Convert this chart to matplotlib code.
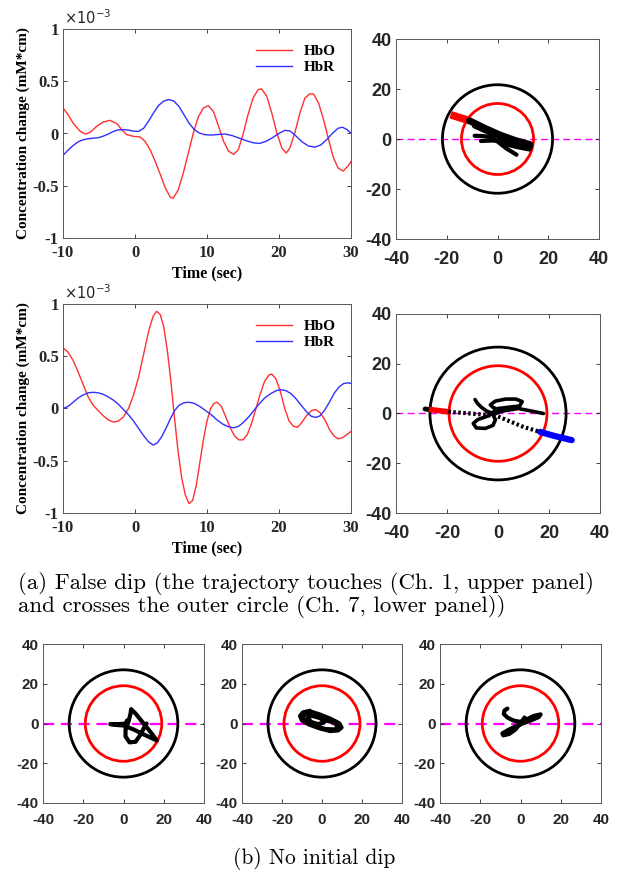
import matplotlib.pyplot as plt
from matplotlib.patches import Circle

plt.rcParams['axes.unicode_minus'] = False

# ---- time courses, values in units of 1e-3 mM*cm ----
ch1_hbo_t = [-10, -9.3, -8.6, -7.6, -6.9, -6.25, -5.3, -4.4, -3.5, -2.5, -1.85, -1.16, -0.23, 0.7,
             1.4, 2.1, 2.8, 3.5, 4.2, 4.9, 5.3, 6.0, 6.7, 7.4, 8.1, 8.8, 9.5, 10.2, 10.9, 11.6,
             12.3, 13.0, 13.7, 14.35, 15.0, 15.7, 16.4, 17.1, 17.6, 18.3, 19.0, 19.7, 20.4, 21.0,
             21.5, 22.2, 22.9, 23.6, 24.3, 24.8, 25.5, 26.2, 26.9, 27.5, 28.2, 28.9, 29.6, 30]
ch1_hbo = [0.244, 0.18, 0.10, 0.02, -0.005, 0.01, 0.07, 0.11, 0.126, 0.094, 0.037, -0.01, -0.027,
           -0.033, -0.075, -0.155, -0.266, -0.39, -0.52, -0.61, -0.62, -0.54, -0.38, -0.19, 0.005,
           0.16, 0.244, 0.266, 0.21, 0.07, -0.075, -0.17, -0.20, -0.155, -0.01, 0.18, 0.34, 0.42,
           0.426, 0.356, 0.196, 0.005, -0.14, -0.187, -0.14, 0.005, 0.196, 0.34, 0.38, 0.378,
           0.29, 0.13, -0.06, -0.22, -0.33, -0.36, -0.31, -0.27]
ch1_hbr_t = [-10, -9.3, -8.6, -7.9, -7.2, -6.5, -5.8, -5.1, -4.4, -3.7, -3.0, -2.3, -1.6, -0.9,
             -0.2, 0.5, 1.2, 1.9, 2.6, 3.3, 4.0, 4.7, 5.4, 6.1, 6.8, 7.5, 8.2, 8.9, 9.6, 10.5,
             11.5, 12.5, 13.5, 14.5, 15.5, 16.5, 17.3, 18.2, 19.1, 20.0, 20.8, 21.5, 22.3, 23.2,
             24.1, 25.0, 25.8, 26.6, 27.4, 28.2, 28.8, 29.4, 30]
ch1_hbr = [-0.21, -0.16, -0.115, -0.08, -0.06, -0.05, -0.045, -0.04, -0.025, -0.005, 0.02, 0.035,
           0.037, 0.032, 0.022, 0.02, 0.05, 0.12, 0.2, 0.27, 0.31, 0.325, 0.31, 0.26, 0.18, 0.1,
           0.04, 0.005, -0.01, -0.015, -0.01, -0.005, -0.02, -0.045, -0.07, -0.09, -0.095, -0.075,
           -0.04, 0.0, 0.03, 0.025, -0.02, -0.08, -0.12, -0.13, -0.11, -0.06, 0.0, 0.05, 0.06,
           0.04, 0.005]

ch7_hbo_t = [-10, -9.3, -8.6, -7.9, -7.2, -6.5, -5.8, -5.1, -4.4, -3.7, -3.0, -2.3, -1.6, -0.9,
             -0.2, 0.5, 1.2, 1.9, 2.5, 3.0, 3.5, 4.0, 4.5, 5.0, 5.5, 6.0, 6.5, 7.0, 7.5, 8.0, 8.5,
             9.0, 9.5, 10.0, 10.5, 11.0, 11.4, 12.0, 12.6, 13.2, 13.8, 14.4, 15.0, 15.6, 16.2,
             16.8, 17.4, 18.0, 18.6, 19.0, 19.6, 20.2, 20.8, 21.4, 22.0, 22.6, 23.2, 23.8, 24.5,
             25.1, 25.7, 26.4, 27.0, 27.6, 28.2, 28.8, 29.4, 30]
ch7_hbo = [0.58, 0.54, 0.46, 0.35, 0.23, 0.11, 0.03, -0.02, -0.07, -0.11, -0.13, -0.12, -0.08,
           0.0, 0.13, 0.3, 0.52, 0.74, 0.88, 0.93, 0.9, 0.78, 0.55, 0.25, -0.1, -0.42, -0.67,
           -0.83, -0.91, -0.88, -0.74, -0.52, -0.3, -0.12, 0.0, 0.05, 0.06, 0.02, -0.08, -0.18,
           -0.26, -0.3, -0.3, -0.25, -0.14, 0.0, 0.14, 0.26, 0.32, 0.33, 0.28, 0.16, 0.0, -0.12,
           -0.17, -0.18, -0.13, -0.07, -0.02, -0.01, -0.04, -0.11, -0.2, -0.26, -0.29, -0.28,
           -0.25, -0.22]
ch7_hbr_t = [-10, -9.3, -8.6, -7.9, -7.2, -6.5, -5.8, -5.1, -4.4, -3.7, -3.0, -2.3, -1.6, -0.9,
             -0.2, 0.5, 1.2, 1.9, 2.5, 3.1, 3.7, 4.3, 4.9, 5.5, 6.1, 6.8, 7.5, 8.2, 9.0, 9.8,
             10.6, 11.4, 12.2, 13.0, 13.7, 14.4, 15.1, 15.8, 16.5, 17.2, 18.0, 18.8, 19.6, 20.3,
             21.0, 21.7, 22.4, 23.1, 23.8, 24.5, 25.1, 25.7, 26.3, 27.0, 27.7, 28.4, 29.0, 29.6,
             30]
ch7_hbr = [0.0, 0.02, 0.06, 0.1, 0.13, 0.15, 0.155, 0.15, 0.135, 0.11, 0.08, 0.04, -0.01, -0.06,
           -0.12, -0.19, -0.26, -0.32, -0.35, -0.33, -0.27, -0.19, -0.1, -0.02, 0.03, 0.055, 0.06,
           0.05, 0.02, -0.02, -0.06, -0.11, -0.15, -0.175, -0.185, -0.17, -0.13, -0.08, -0.02,
           0.04, 0.1, 0.14, 0.17, 0.18, 0.17, 0.14, 0.09, 0.03, -0.03, -0.075, -0.085, -0.07,
           -0.02, 0.06, 0.15, 0.21, 0.24, 0.245, 0.24]

# ---- phase trajectories ----
# Ch. 1
c1_red_x = [-18.5, -11]
c1_red_y = [9.7, 7.3]
c1_main_x = [-11, -5, 1, 7, 12.7]
c1_main_y = [7.3, 4.3, 1.6, -0.6, -2.2]
c1_band_x = [-9, -3, 3, 8, 12.8, 12.5, 8, 3]
c1_band_y = [5.3, 2.5, 0.0, -2.0, -3.4, -3.9, -3.0, -1.8]
c1_b_x = [-9, -6, -3, 0, 3.5, 7.5]
c1_b_y = [1.3, 1.2, 0.8, -1.0, -3.8, -6.3]
c1_c_x = [-6.5, -2, 2, 6, 9]
c1_c_y = [-0.8, -0.6, -0.9, -1.4, -1.6]
c1_r = [21.7, 14.2]

# Ch. 7
c7_start_x = [-28.6, -26]
c7_start_y = [1.8, 1.5]
c7_red_x = [-26, -19.5]
c7_red_y = [1.5, 0.7]
c7_dot_x = [-19.5, -12, -5, 0, 5, 10, 16.5]
c7_dot_y = [0.7, 0.1, -0.5, -1.2, -3.3, -5.4, -7.4]
c7_blue_x = [16.5, 22, 28.9]
c7_blue_y = [-7.4, -9.0, -10.7]
c7_loop_x = [-9, -8, -6.5, -4.5, -2, 0, -2, -3, -1, 3, 7, 9.5, 8.5, 4, 0, -2, -4, -8, -9.7,
             -8.5, -5, -2, -1, -2, 1, 3, 8, 13, 17.8]
c7_loop_y = [5.6, 4, 2.5, 1, 0, 1.5, 2.5, 3.5, 5, 5.8, 5.8, 4.8, 3, 2.5, 2, 0.5, -1, -2.5, -4,
             -5.8, -6, -4.8, -2.5, -0.5, 0.8, 1.2, 2, 1, 0]
c7_r = [26.7, 19.2]

# no-dip examples
nd1_x = [1.7, 1.2, -2, -6.6, -3, 0, 5, 10, 16.5, 14, 10, 6, 3.8, 3.5, 2.5, 1, 1, 3, 6, 8.5,
         10.5, 11.5]
nd1_y = [1.5, 0, -0.3, -0.3, -0.8, -1, -3, -5.5, -8.5, -5, 0, 5, 7.2, 5, 1, -3, -6.5, -9.5, -9.2,
         -5.5, -1.5, 0]
nd2_x = [-6, -9.5, -11, -10, -6.5, -1, 4, 8, 9.8, 8.5, 4, -1, -5, -8.5, -9.5, -7.5, -3, 2, 6.5,
         8, 6, 2, -2, -5.5, -7, -5.5, -2, 1, 0]
nd2_y = [6.4, 5.6, 3.8, 1.5, -0.5, -2.5, -3.8, -3.5, -2, 0.2, 2.5, 4.5, 5.8, 4.8, 3, 0.5, -1.5,
         -2.8, -3, -1.5, 0.5, 1.5, 3, 4, 3, 0.8, -0.3, 0.5, 2.5]
nd3_x = [-6.5, -8, -8.3, -6.5, -3.5, 0, 3, 6.5, 10, 9, 5, 1, -2, -6, -9, -8.5, -5.5, -2.5, -0.5,
         1, 2]
nd3_y = [7.5, 6.5, 4.8, 3, 1.5, 0.8, 2, 3.8, 4.6, 3.2, 1.5, 0, -1.2, -3.2, -5, -6, -5.2, -3,
         -0.5, 1.5, 3]
nd_r = [27, 19]

W, H = 622, 872
fig = plt.figure(figsize=(W / 100, H / 100), dpi=100)


def box(l, r, t, b):
    return [l / W, 1 - b / H, (r - l) / W, (b - t) / H]


serif = 'Liberation Serif'
sans = 'Liberation Sans'
gray = '#262626'


def time_panel(rect, t_o, hbo, t_r, hbr):
    ax = fig.add_axes(rect)
    ax.plot(t_o, hbo, color='#ff3030', lw=1.0, label='HbO')
    ax.plot(t_r, hbr, color='#3030ff', lw=1.0, label='HbR')
    ax.set_xlim(-10, 30)
    ax.set_ylim(-1, 1)
    ax.set_xticks([-10, 0, 10, 20, 30])
    ax.set_yticks([-1, -0.5, 0, 0.5, 1])
    ax.set_yticklabels(['-1', '-0.5', '0', '0.5', '1'])
    ax.tick_params(direction='in', top=True, right=True, length=3, width=0.6, colors=gray,
                   labelsize=12, pad=3)
    ax.tick_params(axis='x', pad=5)
    for lab in ax.get_xticklabels() + ax.get_yticklabels():
        lab.set_fontfamily(serif)
        lab.set_fontweight('bold')
    for s in ax.spines.values():
        s.set_color('0.35')
        s.set_linewidth(0.7)
    ax.set_xlabel('Time (sec)', fontfamily=serif, fontweight='bold', fontsize=11.5, labelpad=3)
    ax.set_ylabel('Concentration change (mM*cm)', fontfamily=serif, fontweight='bold',
                  fontsize=11, labelpad=2)
    ax.text(0.005, 1.01, r'$\times10^{-3}$', transform=ax.transAxes, fontsize=10.5,
            fontfamily=serif, va='bottom', ha='left', color=gray)
    ax.legend(loc='upper right', frameon=False, handlelength=2.3,
              prop={'family': serif, 'weight': 'bold', 'size': 11},
              borderaxespad=0.6, labelspacing=0.15)
    return ax


def phase_panel(rect, radii, labelsize, xpad, dash_lw):
    ax = fig.add_axes(rect)
    ax.set_xlim(-40, 40)
    ax.set_ylim(-40, 40)
    ax.set_xticks([-40, -20, 0, 20, 40])
    ax.set_yticks([-40, -20, 0, 20, 40])
    ax.tick_params(direction='in', top=True, right=True, length=3, width=0.6, colors=gray,
                   labelsize=labelsize, pad=3)
    ax.tick_params(axis='x', pad=xpad)
    for lab in ax.get_xticklabels() + ax.get_yticklabels():
        lab.set_fontfamily(sans)
        lab.set_fontweight('bold')
    for s in ax.spines.values():
        s.set_color('0.35')
        s.set_linewidth(0.7)
    ax.add_patch(Circle((0, 0), radii[0], fill=False, ec='black', lw=2.0, zorder=2))
    ax.add_patch(Circle((0, 0), radii[1], fill=False, ec='red', lw=2.0, zorder=2))
    ax.axhline(0, color='magenta', ls=(0, (5, 3)), lw=dash_lw, zorder=1)
    return ax


time_panel(box(63, 351, 29, 238), ch1_hbo_t, ch1_hbo, ch1_hbr_t, ch1_hbr)
time_panel(box(63, 351, 304, 513), ch7_hbo_t, ch7_hbo, ch7_hbr_t, ch7_hbr)

rnd = dict(solid_capstyle='round', solid_joinstyle='round', zorder=3)

ax = phase_panel(box(396, 599, 39, 239), c1_r, 13, 9, 1.0)
ax.plot(c1_red_x, c1_red_y, color='red', lw=5.5, solid_capstyle='butt', zorder=3)
ax.plot(c1_main_x, c1_main_y, color='black', lw=5, **rnd)
ax.plot(c1_band_x, c1_band_y, color='black', lw=4, **rnd)
ax.plot(c1_b_x, c1_b_y, color='black', lw=3, **rnd)
ax.plot(c1_c_x, c1_c_y, color='black', lw=3, **rnd)

ax = phase_panel(box(396, 600, 314, 513), c7_r, 13, 9, 1.0)
ax.plot(c7_start_x, c7_start_y, color='black', lw=3.5, **rnd)
ax.plot(c7_red_x, c7_red_y, color='red', lw=4, zorder=3)
ax.plot(c7_dot_x, c7_dot_y, color='black', lw=3, ls=(0, (0.6, 0.6)), zorder=3)
ax.plot(c7_blue_x, c7_blue_y, color='blue', lw=4.5, solid_capstyle='round', zorder=3)
ax.plot(c7_loop_x, c7_loop_y, color='black', lw=2.6, **rnd)

nd = [(nd1_x, nd1_y), (nd2_x, nd2_y), (nd3_x, nd3_y)]
for (l, r), (xs, ys) in zip([(43, 204), (242, 402), (440, 601)], nd):
    ax = phase_panel(box(l, r, 644, 803), nd_r, 11, 7, 1.6)
    ax.plot(xs, ys, color='black', lw=3, **rnd)

fig.text(18 / W, 1 - 583 / H, '(a) False dip (the trajectory touches (Ch. 1, upper panel)',
         fontfamily='cmr10', fontsize=16.5, va='center', ha='left')
fig.text(18 / W, 1 - 606 / H, 'and crosses the outer circle (Ch. 7, lower panel))',
         fontfamily='cmr10', fontsize=16.5, va='center', ha='left')
fig.text(314 / W, 1 - 858 / H, '(b) No initial dip', fontfamily='cmr10', fontsize=15.5,
         va='center', ha='center')

fig.savefig('out.png', dpi=100)
